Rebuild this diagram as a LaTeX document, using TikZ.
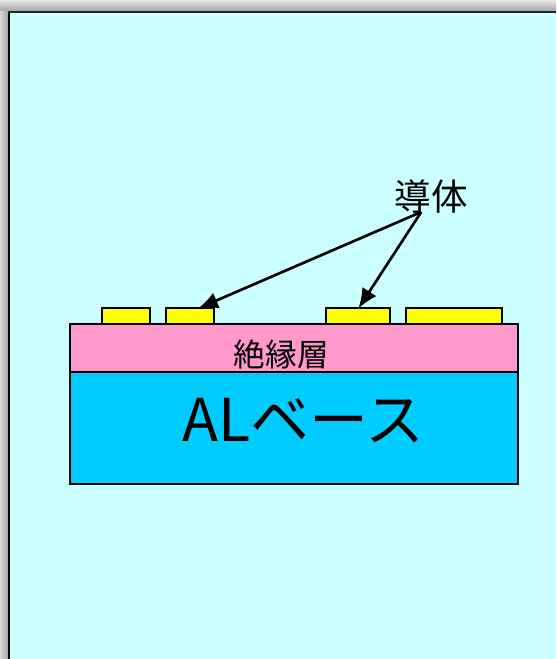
\documentclass[tikz,border=0pt]{standalone}
\usepackage{fontspec}
\setmainfont{Noto Sans CJK JP}
\usetikzlibrary{arrows.meta}
\definecolor{panelcyan}{RGB}{204,255,255}
\definecolor{basecyan}{RGB}{0,204,255}
\definecolor{layerpink}{RGB}{255,153,204}
\definecolor{padyellow}{RGB}{255,255,0}
\tikzset{
    pad/.style={draw=black,fill=padyellow,line width=1.6pt,inner sep=0pt,minimum height=0.4cm},
    leader/.style={black,line width=1.9pt,-{Latex[length=0.5cm,width=0.42cm]}}
}
\begin{document}
\begin{tikzpicture}
    \useasboundingbox (0,0) rectangle (13.9,16.475);
    % grey surround
    \fill[black!18] (0,0) rectangle (13.9,16.475);
    \shade[left color=black!15, right color=black!35] (0,0) rectangle (0.2,16.2);
    \shade[top color=black!10, bottom color=black!35] (0,16.2) rectangle (13.9,16.475);
    % panel
    \fill[panelcyan] (0.225,0) rectangle (13.9,16.175);
    \draw[black,line width=2pt] (0.225,0) -- (0.225,16.175);
    \draw[black!85,line width=1.5pt] (0.19,16.175) -- (13.9,16.175);
    % base and insulating layer
    \draw[fill=basecyan,line width=1.6pt] (1.75,4.375) rectangle (12.95,7.175) node[pos=0.5,xshift=0.23cm,yshift=0.19cm,font=\fontsize{42}{42}\selectfont] (base) {ALベース};
    \draw[fill=layerpink,line width=1.6pt] (1.75,7.175) rectangle (12.95,8.375);
    \node[font=\fontsize{22.5}{22.5}\selectfont] (layer) at (7.03,7.62) {絶縁層};
    % conductors
    \node[pad,minimum width=1.2cm] (pada) at (3.15,8.575) {};
    \node[pad,minimum width=1.2cm] (padb) at (4.75,8.575) {};
    \node[pad,minimum width=1.6cm] (padc) at (8.95,8.575) {};
    \node[pad,minimum width=2.4cm] (padd) at (11.35,8.575) {};
    % label and leaders
    \node[font=\fontsize{26}{26}\selectfont] (lead) at (10.78,11.55) {導体};
    \coordinate (apex) at (10.53,11.175);
    \draw[leader] (apex) -- ([xshift=0.2cm,yshift=-0.04cm]padb.north);
    \draw[leader] (apex) -- ([xshift=0.01cm,yshift=-0.04cm]padc.north);
\end{tikzpicture}
\end{document}
